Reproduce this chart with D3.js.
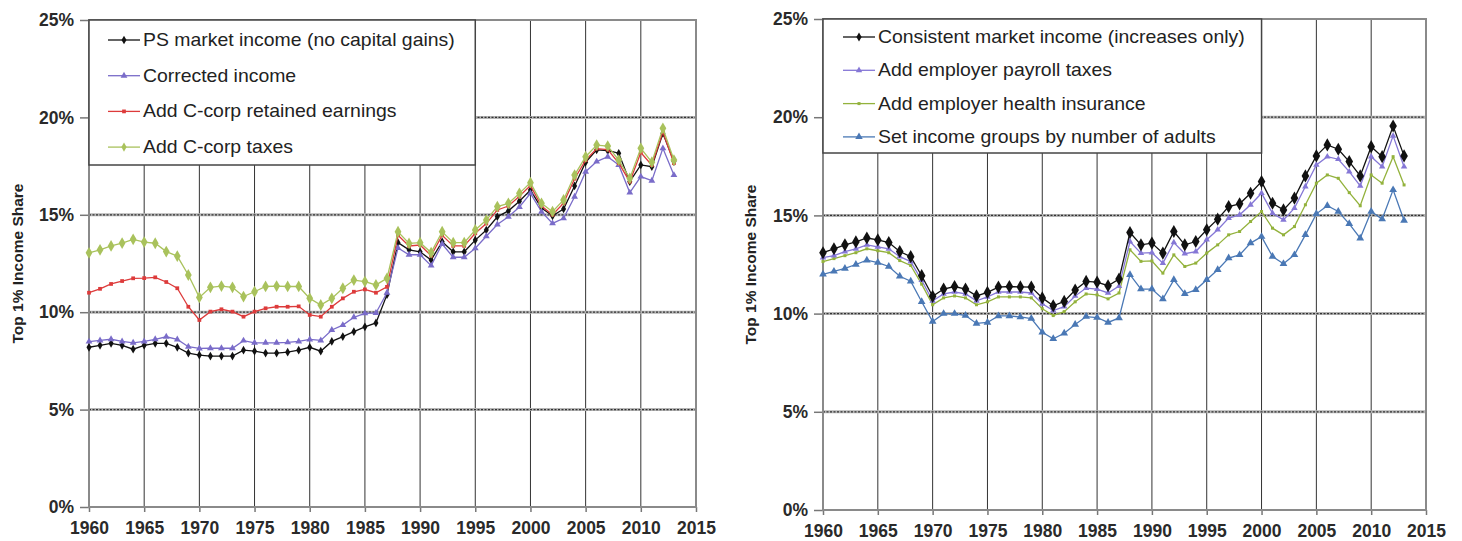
<!DOCTYPE html>
<html>
<head>
<meta charset="utf-8">
<script src="https://cdn.jsdelivr.net/npm/d3@7/dist/d3.min.js"></script>
<style>
  body { margin: 0; background: #fff; }
  text { font-family: "Liberation Sans", Arial, sans-serif; }
</style>
</head>
<body>
<div id="chart"></div>
<script>
// years 1960..2013
var years = d3.range(1960, 2014);
var xTicks = [1960, 1965, 1970, 1975, 1980, 1985, 1990, 1995, 2000, 2005, 2010, 2015];
var yTicks = [0, 5, 10, 15, 20, 25];

// left panel
var psMarket = [8.2, 8.3, 8.4, 8.3, 8.1, 8.3, 8.4, 8.4, 8.2, 7.9, 7.8, 7.75, 7.75, 7.75, 8.05, 8.0, 7.9, 7.9, 7.95, 8.05,
  8.2, 8.0, 8.5, 8.75, 9.0, 9.25, 9.45, 10.9, 13.57, 13.2, 13.1, 12.68, 13.62, 13.1, 13.1, 13.7, 14.22, 14.9, 15.2, 15.7,
  16.27, 15.35, 14.95, 15.3, 16.48, 17.7, 18.33, 18.3, 18.16, 16.7, 17.56, 17.47, 19.18, 17.73];
var corrected = [8.49, 8.55, 8.61, 8.5, 8.43, 8.5, 8.61, 8.74, 8.6, 8.23, 8.14, 8.15, 8.15, 8.15, 8.54, 8.43, 8.43, 8.43, 8.45, 8.5,
  8.6, 8.55, 9.09, 9.34, 9.74, 9.94, 9.96, 11.0, 13.3, 12.95, 12.95, 12.39, 13.5, 12.82, 12.82, 13.28, 13.9, 14.5, 14.9, 15.4,
  16.1, 15.16, 14.56, 14.82, 15.93, 17.21, 17.73, 17.98, 17.56, 16.14, 16.96, 16.75, 18.41, 17.04];
var retained = [11.0, 11.2, 11.45, 11.6, 11.74, 11.75, 11.79, 11.55, 11.23, 10.28, 9.6, 10.03, 10.15, 10.03, 9.77, 10.03, 10.2, 10.28, 10.28, 10.3,
  9.86, 9.77, 10.28, 10.71, 11.05, 11.17, 11.0, 11.3, 13.95, 13.4, 13.45, 12.9, 13.95, 13.4, 13.4, 14.05, 14.55, 15.25, 15.45, 15.95,
  16.5, 15.45, 15.0, 15.6, 16.85, 17.8, 18.4, 18.35, 17.65, 16.7, 18.2, 17.55, 19.25, 17.65];
var ccorpTax = [13.05, 13.2, 13.4, 13.55, 13.74, 13.6, 13.54, 13.11, 12.88, 11.91, 10.76, 11.28, 11.34, 11.28, 10.8, 11.05, 11.32, 11.34, 11.32, 11.32,
  10.71, 10.37, 10.71, 11.23, 11.65, 11.57, 11.4, 11.74, 14.13, 13.53, 13.57, 13.06, 14.13, 13.57, 13.57, 14.22, 14.73, 15.42, 15.59, 16.1,
  16.65, 15.59, 15.16, 15.76, 17.04, 17.98, 18.58, 18.53, 17.81, 16.87, 18.41, 17.7, 19.44, 17.81];

// right panel
var consistent = [13.1, 13.3, 13.5, 13.65, 13.85, 13.75, 13.62, 13.16, 12.9, 11.93, 10.88, 11.25, 11.38, 11.25, 10.9, 11.08, 11.35, 11.38, 11.36, 11.35,
  10.8, 10.4, 10.62, 11.2, 11.64, 11.6, 11.42, 11.76, 14.13, 13.5, 13.59, 13.08, 14.18, 13.5, 13.67, 14.27, 14.81, 15.45, 15.59, 16.13,
  16.72, 15.62, 15.28, 15.88, 17.01, 18.03, 18.59, 18.37, 17.74, 17.01, 18.5, 17.99, 19.55, 18.03];
var payroll = [12.85, 12.95, 13.15, 13.3, 13.5, 13.4, 13.3, 12.9, 12.65, 11.7, 10.65, 11.0, 11.1, 11.0, 10.65, 10.85, 11.1, 11.1, 11.1, 11.05,
  10.5, 10.15, 10.35, 10.9, 11.3, 11.25, 11.05, 11.4, 13.67, 13.08, 13.1, 12.57, 13.62, 13.05, 13.16, 13.76, 14.27, 14.86, 15.03, 15.54,
  16.13, 15.11, 14.77, 15.37, 16.47, 17.57, 17.99, 17.86, 17.23, 16.5, 17.99, 17.48, 19.05, 17.48];
var health = [12.65, 12.8, 12.95, 13.1, 13.3, 13.2, 13.1, 12.7, 12.45, 11.5, 10.45, 10.8, 10.9, 10.8, 10.45, 10.6, 10.85, 10.85, 10.85, 10.8,
  10.25, 9.9, 10.1, 10.6, 11.0, 10.95, 10.75, 11.05, 13.25, 12.66, 12.68, 12.06, 12.99, 12.4, 12.57, 13.08, 13.5, 14.01, 14.18, 14.69,
  15.2, 14.35, 14.01, 14.43, 15.54, 16.64, 17.06, 16.89, 16.16, 15.49, 17.06, 16.64, 17.99, 16.55];
var adults = [12.0, 12.15, 12.3, 12.5, 12.72, 12.6, 12.4, 11.9, 11.65, 10.6, 9.6, 10.0, 10.0, 9.9, 9.5, 9.55, 9.88, 9.88, 9.83, 9.75,
  9.05, 8.72, 9.0, 9.45, 9.85, 9.8, 9.55, 9.78, 11.98, 11.25, 11.25, 10.74, 11.72, 11.01, 11.21, 11.72, 12.23, 12.83, 12.99, 13.59,
  13.92, 12.91, 12.54, 12.99, 14.01, 15.08, 15.49, 15.2, 14.57, 13.84, 15.2, 14.81, 16.3, 14.74];

var leftSeries = [
  { name: "PS market income (no capital gains)", values: psMarket, color: "#111", sym: d3.symbolDiamond, size: 22 },
  { name: "Corrected income", values: corrected, color: "#7a6cc9", sym: d3.symbolTriangle, size: 20 },
  { name: "Add C-corp retained earnings", values: retained, color: "#dd3b3b", sym: d3.symbolSquare, size: 14 },
  { name: "Add C-corp taxes", values: ccorpTax, color: "#a9c25c", sym: d3.symbolDiamond, size: 40 }
];
var rightSeries = [
  { name: "Consistent market income (increases only)", values: consistent, color: "#111", sym: d3.symbolDiamond, size: 50 },
  { name: "Add employer payroll taxes", values: payroll, color: "#8577d6", sym: d3.symbolTriangle, size: 18 },
  { name: "Add employer health insurance", values: health, color: "#93b23c", sym: d3.symbolSquare, size: 9 },
  { name: "Set income groups by number of adults", values: adults, color: "#4a78b5", sym: d3.symbolTriangle, size: 26 }
];

var svg = d3.select("#chart").append("svg")
  .attr("width", 1462)
  .attr("height", 541);

function drawPanel(opt) {
  var x = d3.scaleLinear().domain([1960, 2015]).range([opt.left, opt.right]);
  var y = d3.scaleLinear().domain([0, 25]).range([opt.bottom, opt.top]);
  var g = svg.append("g");

  // vertical grid (solid)
  g.selectAll(".vgrid")
    .data(xTicks.slice(1, -1))
    .enter().append("line")
    .attr("x1", function (d) { return x(d); })
    .attr("x2", function (d) { return x(d); })
    .attr("y1", y(0)).attr("y2", y(25))
    .attr("stroke", "#333").attr("stroke-width", 1);

  // horizontal grid (dotted)
  g.selectAll(".hgrid")
    .data(yTicks.slice(1, -1))
    .enter().append("line")
    .attr("x1", x(1960)).attr("x2", x(2015))
    .attr("y1", function (d) { return y(d); })
    .attr("y2", function (d) { return y(d); })
    .attr("stroke", "#b5b5b5").attr("stroke-width", 3);
  g.selectAll(".hgrid2")
    .data(yTicks.slice(1, -1))
    .enter().append("line")
    .attr("x1", x(1960)).attr("x2", x(2015))
    .attr("y1", function (d) { return y(d); })
    .attr("y2", function (d) { return y(d); })
    .attr("stroke", "#333").attr("stroke-width", 1.2)
    .attr("stroke-dasharray", "2,1.5");

  // axes
  var ya = g.append("g")
    .attr("transform", "translate(" + x(1960) + ",0)")
    .call(d3.axisLeft(y).tickValues(yTicks).tickSize(9).tickPadding(6)
      .tickFormat(function (d) { return d + "%"; }));
  var xa = g.append("g")
    .attr("transform", "translate(0," + y(0) + ")")
    .call(d3.axisBottom(x).tickValues(xTicks).tickSize(5).tickPadding(10)
      .tickFormat(d3.format("d")));
  [ya, xa].forEach(function (a) {
    a.select(".domain").remove();
    a.selectAll(".tick line").attr("stroke", "#777").attr("stroke-width", 1.5);
    a.selectAll("text")
      .attr("fill", "#2a2a2a")
      .style("font-size", "17.5px")
      .style("font-weight", "bold")
      .style("font-family", "'Liberation Sans', Arial, sans-serif");
  });

  // plot border
  g.append("rect")
    .attr("x", x(1960)).attr("y", y(25))
    .attr("width", x(2015) - x(1960))
    .attr("height", y(0) - y(25))
    .attr("fill", "none")
    .attr("stroke", "#8a8a8a")
    .attr("stroke-width", 2);

  // y title
  g.append("text")
    .attr("transform", "translate(" + opt.titleX + "," + (y(0) + y(25)) / 2 + ") rotate(-90)")
    .attr("text-anchor", "middle")
    .style("font-size", "15.5px")
    .style("font-weight", "bold")
    .attr("fill", "#222")
    .text("Top 1% Income Share");

  // series
  var line = d3.line()
    .x(function (d, i) { return x(years[i]); })
    .y(function (d) { return y(d); });

  opt.order.forEach(function (k) {
    var s = opt.series[k];
    g.append("path")
      .datum(s.values)
      .attr("fill", "none")
      .attr("stroke", s.color)
      .attr("stroke-width", 1.3)
      .attr("d", line);
    g.selectAll(".pt" + k)
      .data(s.values)
      .enter().append("path")
      .attr("transform", function (d, i) { return "translate(" + x(years[i]) + "," + y(d) + ")"; })
      .attr("d", d3.symbol().type(s.sym).size(s.size))
      .attr("fill", s.color);
  });

  // legend
  var lg = g.append("g");
  lg.append("rect")
    .attr("x", x(1960)).attr("y", y(25))
    .attr("width", x(opt.legendYear) - x(1960))
    .attr("height", opt.legendBottom - y(25))
    .attr("fill", "#fff")
    .attr("stroke", "#444")
    .attr("stroke-width", 1.5);
  opt.series.forEach(function (s, i) {
    var cy = y(25) + opt.legendFirst + i * opt.legendStep;
    var lx = x(1960) + opt.legendPad;
    lg.append("line")
      .attr("x1", lx).attr("x2", lx + 32)
      .attr("y1", cy).attr("y2", cy)
      .attr("stroke", s.color).attr("stroke-width", 1.3);
    lg.append("path")
      .attr("transform", "translate(" + (lx + 16) + "," + cy + ")")
      .attr("d", d3.symbol().type(s.sym).size(Math.min(s.size, 24)))
      .attr("fill", s.color);
    lg.append("text")
      .attr("transform", "translate(" + (lx + 35) + "," + (cy + 6) + ") scale(1.11,1)")
      .style("font-size", "17.5px")
      .attr("fill", "#222")
      .text(s.name);
  });
}

drawPanel({
  series: leftSeries, order: [0, 1, 2, 3],
  left: 89, right: 696, top: 20, bottom: 507,
  titleX: 23, legendYear: 1995, legendBottom: 165,
  legendPad: 19, legendFirst: 20, legendStep: 35.7
});
drawPanel({
  series: rightSeries, order: [3, 2, 1, 0],
  left: 823, right: 1426, top: 19, bottom: 510,
  titleX: 756, legendYear: 2000, legendBottom: 153,
  legendPad: 20, legendFirst: 18, legendStep: 33.3
});
</script>
</body>
</html>
